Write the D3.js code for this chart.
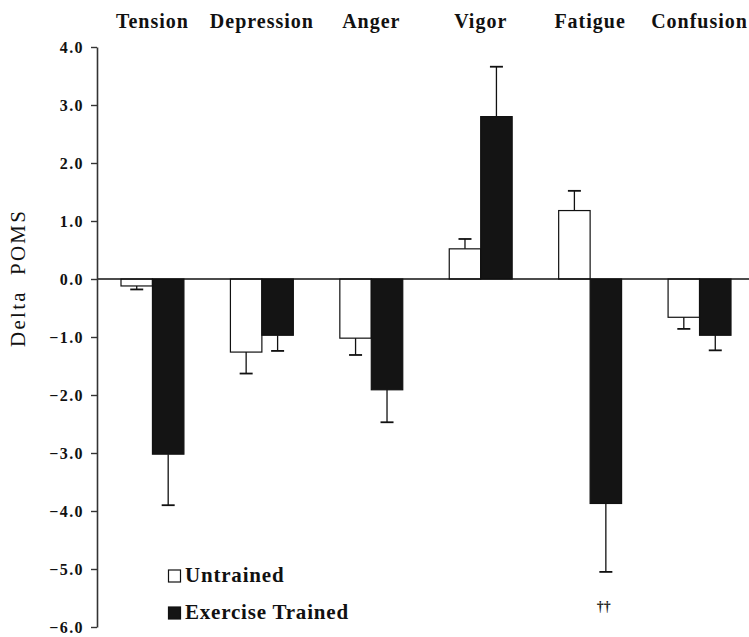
<!DOCTYPE html>
<html><head><meta charset="utf-8">
<script src="https://cdn.jsdelivr.net/npm/d3@7"></script>
<style>
html,body{margin:0;padding:0;background:#fff;}
svg{display:block;}
text{font-family:"Liberation Serif","Times New Roman",serif;fill:#111;}
</style></head>
<body>
<svg id="chart" width="749" height="637"></svg>
<script>
const categories = ["Tension","Depression","Anger","Vigor","Fatigue","Confusion"];
const seriesNames = ["Untrained","Exercise Trained"];
const untrained = [-0.12,-1.26,-1.02,0.52,1.18,-0.66];
const untrainedErr = [0.06,0.37,0.29,0.17,0.34,0.20];
const trained = [-3.02,-0.97,-1.91,2.80,-3.87,-0.97];
const trainedErr = [0.88,0.27,0.56,0.86,1.18,0.26];
const yTicks = [4,3,2,1,0,-1,-2,-3,-4,-5,-6];
const annotations = [{cat:"Fatigue", series:1, text:"††"}];

const svg = d3.select("#chart");
const axisX = 97;
const y = d3.scaleLinear().domain([-6,4]).range([627,47]);
const x = d3.scaleBand().domain(categories).range([121,731]).paddingInner(0.425).paddingOuter(0);
const xs = d3.scaleBand().domain([0,1]).range([0,x.bandwidth()]);

const data = [];
categories.forEach((c,i)=>{
  data.push({cat:c, s:0, v:untrained[i], e:untrainedErr[i]});
  data.push({cat:c, s:1, v:trained[i], e:trainedErr[i]});
});

// bars
svg.append("g").selectAll("rect").data(data).join("rect")
  .attr("x", d=>x(d.cat)+xs(d.s))
  .attr("width", xs.bandwidth())
  .attr("y", d=>y(Math.max(0,d.v)))
  .attr("height", d=>Math.abs(y(d.v)-y(0)))
  .attr("fill", d=>d.s===0?"#fff":"#141414")
  .attr("stroke","#111").attr("stroke-width",1.2);

// error bars
const eg = svg.append("g").attr("stroke","#111").attr("stroke-width",1.3);
data.forEach(d=>{
  const cx = x(d.cat)+xs(d.s)+xs.bandwidth()/2;
  const end = d.v>=0 ? d.v+d.e : d.v-d.e;
  eg.append("line").attr("x1",cx).attr("x2",cx).attr("y1",y(d.v)).attr("y2",y(end));
  eg.append("line").attr("x1",cx-6.5).attr("x2",cx+6.5).attr("y1",y(end)).attr("y2",y(end)).attr("stroke-width",1.8);
});

// zero line
svg.append("line").attr("x1",axisX).attr("x2",749).attr("y1",y(0)).attr("y2",y(0))
  .attr("stroke","#111").attr("stroke-width",1.3);

// y axis
const ya = svg.append("g").attr("transform",`translate(${axisX},0)`)
  .call(d3.axisLeft(y).tickValues(yTicks).tickFormat(d3.format(".1f")).tickSize(6).tickPadding(7).tickSizeOuter(0));
ya.select(".domain").attr("stroke","#333").attr("stroke-width",1.6);
ya.selectAll(".tick line").attr("stroke","#333").attr("stroke-width",1.4);
ya.selectAll(".tick text").attr("font-family","Liberation Serif").attr("font-weight","bold")
  .attr("font-size",16).attr("letter-spacing","1.4px").attr("fill","#111");

// category headers
svg.append("g").selectAll("text").data(categories).join("text")
  .attr("x", d=>x(d)+x.bandwidth()/2)
  .attr("y", 28)
  .attr("text-anchor","middle")
  .attr("font-weight","bold").attr("font-size",20).attr("letter-spacing","1px")
  .text(d=>d);

// y label
svg.append("text")
  .attr("transform",`translate(25,279) rotate(-90)`)
  .attr("x",-68)
  .attr("font-size",21)
  .attr("textLength",136).attr("lengthAdjust","spacing")
  .attr("xml:space","preserve")
  .text("Delta  POMS");

// legend
const lg = svg.append("g");
const legY = [582, 619];
seriesNames.forEach((n,i)=>{
  lg.append("rect").attr("x",168.5).attr("y",legY[i]-12).attr("width",12).attr("height",12)
    .attr("fill", i===0?"#fff":"#141414").attr("stroke","#111").attr("stroke-width",1.2);
  lg.append("text").attr("x",185).attr("y",legY[i]).attr("font-weight","bold").attr("font-size",21)
    .attr("letter-spacing","0.8px").text(n);
});

// annotation
annotations.forEach(a=>{
  const i = categories.indexOf(a.cat);
  const cx = x(a.cat)+xs(a.series)+xs.bandwidth()/2;
  svg.append("text").attr("x",cx-2).attr("y",611).attr("text-anchor","middle")
    .attr("font-size",14).attr("font-weight","bold").style("fill","#222").text(a.text);
});
</script>
</body></html>
